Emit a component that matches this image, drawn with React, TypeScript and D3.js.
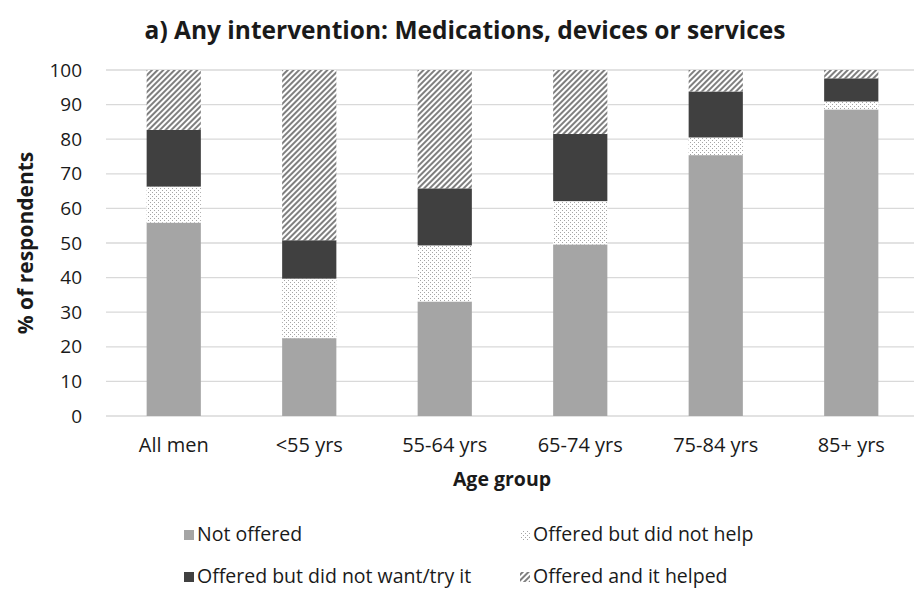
import React, { useEffect, useRef } from 'react';
import * as d3 from 'd3';

const WIDTH = 914;
const HEIGHT = 592;

const CATEGORIES = ['All men', '<55 yrs', '55-64 yrs', '65-74 yrs', '75-84 yrs', '85+ yrs'];
const SERIES = ['Not offered', 'Offered but did not help', 'Offered but did not want/try it', 'Offered and it helped'];

const NOT_OFFERED = [55.9, 22.5, 33.1, 49.6, 75.4, 88.6];
const NOT_HELP = [10.4, 17.2, 16.2, 12.5, 5.1, 2.3];
const NOT_WANT = [16.4, 11.1, 16.5, 19.4, 13.3, 6.7];
const HELPED = [17.3, 49.2, 34.2, 18.5, 6.2, 2.4];

const Y_TICKS = [0, 10, 20, 30, 40, 50, 60, 70, 80, 90, 100];

const FONT = 'Open Sans, sans-serif';
const INK = '#1a1a1a';

const App: React.FC = () => {
  const ref = useRef<SVGSVGElement>(null);

  useEffect(() => {
    const svg = d3.select(ref.current);
    svg.selectAll('*').remove();

    const margin = { left: 106, right: -5, top: 70, bottom: 176 };
    const x = d3
      .scaleBand()
      .domain(CATEGORIES)
      .range([margin.left, WIDTH - margin.right])
      .paddingInner(0.6)
      .paddingOuter(0.3);
    const y = d3.scaleLinear().domain([0, 100]).range([HEIGHT - margin.bottom, margin.top]);

    // fill patterns
    const defs = svg.append('defs');
    const dots = defs
      .append('pattern')
      .attr('id', 'dots')
      .attr('patternUnits', 'userSpaceOnUse')
      .attr('width', 4)
      .attr('height', 4);
    dots.append('rect').attr('width', 4).attr('height', 4).attr('fill', '#fff');
    dots.append('rect').attr('x', 0).attr('y', 0).attr('width', 1).attr('height', 1).attr('fill', '#a5a5a5');
    dots.append('rect').attr('x', 2).attr('y', 2).attr('width', 1).attr('height', 1).attr('fill', '#a5a5a5');

    const stripes = defs
      .append('pattern')
      .attr('id', 'stripes')
      .attr('patternUnits', 'userSpaceOnUse')
      .attr('width', 4)
      .attr('height', 4)
      .attr('patternTransform', 'rotate(45)');
    stripes.append('rect').attr('width', 4).attr('height', 4).attr('fill', '#fff');
    stripes.append('rect').attr('x', 0).attr('width', 2).attr('height', 4).attr('fill', '#7f7f7f');

    const fills = ['#a5a5a5', 'url(#dots)', '#404040', 'url(#stripes)'];

    // gridlines
    svg
      .append('g')
      .selectAll('line')
      .data(Y_TICKS)
      .join('line')
      .attr('x1', margin.left)
      .attr('x2', WIDTH)
      .attr('y1', (d) => y(d))
      .attr('y2', (d) => y(d))
      .attr('stroke', '#d9d9d9')
      .attr('stroke-width', 1.3);

    // y tick labels
    svg
      .append('g')
      .selectAll('text')
      .data(Y_TICKS)
      .join('text')
      .attr('x', 82)
      .attr('y', (d) => y(d))
      .attr('dy', '0.35em')
      .attr('text-anchor', 'end')
      .attr('font-family', FONT)
      .attr('font-size', 19)
      .attr('fill', INK)
      .text((d) => d);

    // stacked bars
    const rows = CATEGORIES.map((c, i) => ({
      cat: c,
      [SERIES[0]]: NOT_OFFERED[i],
      [SERIES[1]]: NOT_HELP[i],
      [SERIES[2]]: NOT_WANT[i],
      [SERIES[3]]: HELPED[i],
    }));
    const stacked = d3.stack<any>().keys(SERIES)(rows);

    svg
      .append('g')
      .selectAll('g')
      .data(stacked)
      .join('g')
      .attr('fill', (_, i) => fills[i])
      .selectAll('rect')
      .data((d) => d)
      .join('rect')
      .attr('x', (d) => x(d.data.cat) as number)
      .attr('width', x.bandwidth())
      .attr('y', (d) => y(d[1]))
      .attr('height', (d) => y(d[0]) - y(d[1]));

    // x labels
    svg
      .append('g')
      .selectAll('text')
      .data(CATEGORIES)
      .join('text')
      .attr('x', (d) => (x(d) as number) + x.bandwidth() / 2)
      .attr('y', 452)
      .attr('text-anchor', 'middle')
      .attr('font-family', FONT)
      .attr('font-size', 20)
      .attr('fill', INK)
      .text((d) => d);

    // titles
    svg
      .append('text')
      .attr('x', 465)
      .attr('y', 39)
      .attr('text-anchor', 'middle')
      .attr('font-family', FONT)
      .attr('font-weight', 'bold')
      .attr('font-size', 24.5)
      .attr('fill', INK)
      .text('a) Any intervention: Medications, devices or services');

    svg
      .append('text')
      .attr('x', 502)
      .attr('y', 486)
      .attr('text-anchor', 'middle')
      .attr('font-family', FONT)
      .attr('font-weight', 'bold')
      .attr('font-size', 19.5)
      .attr('fill', INK)
      .text('Age group');

    svg
      .append('text')
      .attr('transform', `translate(33,${(y(0) + y(100)) / 2}) rotate(-90)`)
      .attr('text-anchor', 'middle')
      .attr('font-family', FONT)
      .attr('font-weight', 'bold')
      .attr('font-size', 21)
      .attr('fill', INK)
      .text('% of respondents');

    // legend
    const legendPos = [
      [197, 541],
      [533, 541],
      [197, 583],
      [533, 583],
    ];
    const legend = svg
      .append('g')
      .selectAll('g')
      .data(SERIES)
      .join('g')
      .attr('transform', (_, i) => `translate(${legendPos[i][0]},${legendPos[i][1]})`);
    legend
      .append('rect')
      .attr('x', -13)
      .attr('y', -11)
      .attr('width', 10)
      .attr('height', 10)
      .attr('fill', (_, i) => fills[i]);
    legend
      .append('text')
      .attr('x', 0)
      .attr('font-family', FONT)
      .attr('font-size', 19.5)
      .attr('fill', INK)
      .text((d) => d);
  }, []);

  return (
    <svg
      ref={ref}
      width={WIDTH}
      height={HEIGHT}
      style={{ position: 'absolute', left: 0, top: 0, background: '#fff' }}
    />
  );
};

export default App;
